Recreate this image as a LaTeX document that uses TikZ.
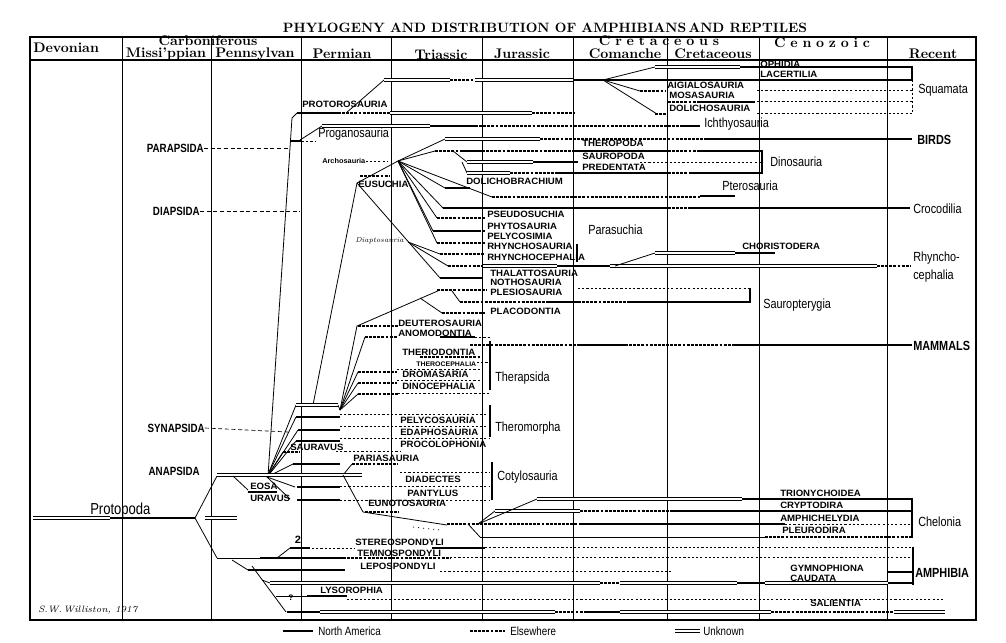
\documentclass[tikz,border=0pt]{standalone}
\usepackage{fontspec}
\newfontfamily\labf[FakeStretch=0.82]{Liberation Sans}
\newfontfamily\capf[FakeStretch=1.05]{Liberation Sans Bold}
\newcommand\myseg[4]{\draw[#1] (#2,#4) -- (#3,#4);}
\newcommand\lsp{\hspace{3.6pt}}
\begin{document}
\begin{tikzpicture}[x=0.0265cm,y=-0.0265cm,
 stNA/.style={line width=2.2pt},
 stEL/.style={line width=2.2pt, dash pattern=on 2.2pt off 0.9pt},
 stUN/.style={draw=black, double=white, line width=0.6pt, double distance=1.1pt},
 stDT/.style={line width=0.5pt, dash pattern=on 1.6pt off 1.6pt},
 stLN/.style={line width=0.6pt},
 stBAR/.style={line width=1.3pt},
 stCOL/.style={line width=0.6pt},
 sl/.style={font=\capf\fontsize{6.9}{7}\selectfont, anchor=west, inner sep=0},
 tl/.style={font=\capf\fontsize{5}{6}\selectfont, anchor=west, inner sep=0},
 bl/.style={font=\labf\fontsize{10}{11}\selectfont, anchor=west, inner sep=0},
 bbl/.style={font=\labf\bfseries\fontsize{10}{11}\selectfont, anchor=west, inner sep=0},
 ml/.style={font=\labf\bfseries\fontsize{9}{10}\selectfont, inner sep=0},
 hd/.style={font=\fontsize{10.5}{11}\selectfont\bfseries, inner sep=0}]
\useasboundingbox (0,0) rectangle (1006,642);
% title
\node[font=\fontsize{10.2}{12}\selectfont\bfseries, inner sep=0] (title) at (545,28) {PHYLOGENY AND DISTRIBUTION OF AMPHIBIANS\,AND REPTILES};
% frame and columns
\draw[line width=0.8pt] (30,37) rectangle (976,620);
\draw[line width=1.5pt] (30,620) -- (976,620);
\draw[line width=0.8pt] (30,60) -- (976,60);
\foreach \x in {122,211,301,391,482,573,667,759,887} \draw[stCOL] (\x,37) -- (\x,620);
% headers
\node[hd,anchor=west] (hDev) at (33,48) {Devonian};
\node[hd] (hCarb) at (208,41) {Carboniferous};
\node[hd] (hMiss) at (166,54) {Missi'ppian};
\node[hd] (hPenn) at (255,54) {Pennsylvan};
\node[hd] (hPerm) at (342,54) {Permian};
\node[hd] (hTri) at (441,55) {Triassic};
\node[hd] (hJur) at (522,54) {Jurassic};
\node[hd] (hCret) at (659,41) {C\lsp r\lsp e\lsp t\lsp a\lsp c\lsp e\lsp o\lsp u\lsp s};
\node[hd] (hCom) at (625,54) {Comanche};
\node[hd] (hCre2) at (713,54) {Cretaceous};
\node[hd] (hCen) at (822,43) {C\lsp e\lsp n\lsp o\lsp z\lsp o\lsp i\lsp c};
\node[hd] (hRec) at (933,54) {Recent};
% ===== Squamata =====
\draw[stLN] (268,476) -- (292,118) -- (297,113);
\myseg{stNA}{297}{338}{113}
\myseg{stEL}{338}{390}{113}
\myseg{stUN}{390}{532}{113}
\myseg{stEL}{532}{575}{113}
\draw[stLN] (346,113) -- (384,80);
\myseg{stUN}{384}{450}{80}
\myseg{stEL}{450}{475}{80}
\myseg{stUN}{475}{573}{80}
\myseg{stNA}{573}{912}{80}
\draw[stLN] (603,80) -- (655,67);
\myseg{stUN}{655}{740}{67}
\myseg{stNA}{740}{912}{67}
\draw[stNA] (912,66) -- (912,81);
\draw[stLN] (603,80) -- (640,91);
\myseg{stEL}{640}{665}{91}
\myseg{stDT}{757}{912}{90}
\draw[stLN] (603,80) -- (657,114);
\myseg{stEL}{668}{700}{102}
\myseg{stNA}{700}{755}{102}
\myseg{stDT}{757}{912}{101}
\myseg{stEL}{655}{668}{114}
\myseg{stDT}{757}{912}{113}
\draw[stDT] (912,80) -- (912,113);
\node[sl] (lProt) at (302,104) {PROTOROSAURIA};
\node[sl] (lOph) at (760,64) {OPHIDIA};
\node[sl] (lLac) at (760,74) {LACERTILIA};
\node[sl] (lAig) at (667,85) {AIGIALOSAURIA};
\node[sl] (lMos) at (669,95) {MOSASAURIA};
\node[sl] (lDol) at (669,108) {DOLICHOSAURIA};
\node[bl] (lSquam) at (918,90) {Squamata};
% ===== Proganosauria / Ichthyosauria =====
\node[ml,anchor=east] (lPara) at (204,148) {PARAPSIDA};
\draw[line width=0.5pt, dash pattern=on 3pt off 2pt] (lPara.east) -- (290,148);
\myseg{stNA}{290}{302}{141}
\myseg{stDT}{302}{316}{141}
\draw[stLN] (300,140) -- (322,126);
\myseg{stUN}{322}{430}{126}
\myseg{stNA}{430}{475}{126}
\myseg{stEL}{475}{680}{126}
\myseg{stNA}{680}{700}{126}
\node[bl] (lProg) at (318,134) {Proganosauria};
\node[bl] (lIch) at (704,124) {Ichthyosauria};
% ===== Archosauria =====
\node[font=\capf\fontsize{5.3}{6}\selectfont, anchor=west, inner sep=0] (lArch) at (322,161) {Archosauria};
\draw[stDT] (lArch.east) -- (388,161);
\coordinate (E) at (357,183);
\coordinate (B) at (398,161);
\draw[stLN] (313,405) -- (E) -- (B);
\myseg{stEL}{360}{389}{176}
\node[sl] (lEus) at (358,184) {EUSUCHIA};
\node[ml,anchor=east] (lDiap) at (200,211) {DIAPSIDA};
\draw[line width=0.5pt, dash pattern=on 3pt off 2pt] (lDiap.east) -- (300,211);
% birds
\draw[stLN] (B) -- (445,139);
\myseg{stUN}{445}{540}{139}
\myseg{stEL}{540}{705}{139}
\myseg{stNA}{705}{912}{139}
\node[bbl] (lBirds) at (917,140) {BIRDS};
% dinosaurs
\draw[stLN] (B) -- (435,151);
\myseg{stEL}{435}{460}{151}
\myseg{stNA}{460}{482}{151}
\myseg{stEL}{482}{575}{151}
\myseg{stNA}{575}{668}{151}
\myseg{stEL}{668}{700}{151}
\myseg{stNA}{700}{762}{151}
\draw[stLN] (453,151) -- (467,162);
\myseg{stUN}{467}{533}{162}
\myseg{stNA}{533}{578}{162}
\myseg{stDT}{640}{762}{162}
\draw[stLN] (462,162) -- (467,173);
\myseg{stUN}{467}{510}{173}
\myseg{stEL}{510}{555}{173}
\myseg{stNA}{555}{668}{173}
\myseg{stEL}{668}{690}{173}
\myseg{stNA}{690}{762}{173}
\draw[stNA] (762,150) -- (762,174);
\node[sl] (lThero) at (582,143) {THEROPODA};
\node[sl] (lSauro) at (582,156) {SAUROPODA};
\node[sl] (lPred) at (582,167) {PREDENTATA};
\node[bl] (lDino) at (770,162) {Dinosauria};
% dolichobrachium
\draw[stLN] (B) -- (445,188);
\myseg{stNA}{445}{470}{188}
\node[sl] (lDolb) at (466,181) {DOLICHOBRACHIUM};
% pterosauria
\draw[stLN] (B) -- (492,197);
\myseg{stEL}{492}{700}{197}
\myseg{stNA}{700}{735}{196}
\node[bl] (lPter) at (722,186) {Pterosauria};
% crocodilia
\draw[stLN] (B) -- (443,208);
\myseg{stNA}{443}{668}{208}
\myseg{stEL}{668}{688}{208}
\myseg{stNA}{688}{910}{208}
\node[bl] (lCroc) at (913,209) {Crocodilia};
% parasuchia
\draw[stLN] (B) -- (437,218);
\myseg{stEL}{437}{485}{218}
\draw[stLN] (B) -- (433,231);
\myseg{stNA}{433}{478}{231}
\myseg{stEL}{478}{486}{231}
\draw[stLN] (B) -- (437,243);
\myseg{stEL}{437}{485}{243}
\draw[stLN] (E) -- (440,278);
\coordinate (D) at (408,242);
\draw[stLN] (D) -- (440,254);
\myseg{stEL}{440}{485}{254}
\draw[stLN] (D) -- (448,266);
\myseg{stEL}{448}{483}{266}
\myseg{stUN}{483}{557}{266}
\myseg{stNA}{557}{610}{266}
\myseg{stUN}{610}{877}{266}
\myseg{stEL}{877}{910}{266}
\draw[stLN] (615,266) -- (655,253);
\myseg{stUN}{655}{735}{253}
\myseg{stNA}{735}{775}{253}
\myseg{stNA}{440}{483}{278}
\node[font=\itshape\fontsize{5.5}{6}\selectfont, inner sep=0, anchor=west] (lDiapt) at (355,241) {Diaptosauria};
\draw[stNA] (577,244) -- (577,262);
\node[sl] (lPseu) at (487,214) {PSEUDOSUCHIA};
\node[sl] (lPhyt) at (487,226) {PHYTOSAURIA};
\node[sl] (lPely) at (487,236) {PELYCOSIMIA};
\node[sl] (lRhs) at (487,246) {RHYNCHOSAURIA};
\node[sl] (lRhc) at (487,257) {RHYNCHOCEPHALIA};
\node[bl] (lParas) at (588,230) {Parasuchia};
\node[sl] (lChor) at (742,246) {CHORISTODERA};
\node[bl] (lRhy1) at (913,258) {Rhyncho-};
\node[bl] (lRhy2) at (913,276) {cephalia};
% sauropterygia
\node[sl] (lThal) at (490,273) {THALATTOSAURIA};
\node[sl] (lNoth) at (490,282) {NOTHOSAURIA};
\node[sl] (lPles) at (490,292) {PLESIOSAURIA};
\node[sl] (lPlac) at (490,311) {PLACODONTIA};
\coordinate (T) at (340,410);
\draw[stLN] (T) -- (357,326) -- (440,290);
\myseg{stEL}{437}{487}{290}
\draw[stLN] (420,298) -- (442,313);
\myseg{stEL}{442}{485}{313}
\draw[stLN] (452,291) -- (460,302);
\myseg{stEL}{460}{548}{302}
\myseg{stNA}{548}{578}{302}
\myseg{stEL}{578}{630}{302}
\myseg{stNA}{630}{750}{302}
\myseg{stDT}{578}{750}{288}
\draw[stBAR] (750,288) -- (750,303);
\node[bl] (lSaur) at (763,305) {Sauropterygia};
% ===== Therapsida =====
\myseg{stEL}{358}{398}{326}
\node[sl] (lDeut) at (398,323) {DEUTEROSAURIA};
\draw[stLN] (T) -- (365,337);
\myseg{stEL}{365}{397}{337}
\myseg{stNA}{440}{475}{337}
\myseg{stDT}{475}{490}{337}
\node[sl] (lAnom) at (398,333) {ANOMODONTIA};
\myseg{stEL}{470}{580}{345}
\myseg{stNA}{580}{625}{345}
\myseg{stEL}{625}{735}{345}
\myseg{stNA}{735}{912}{345}
\node[bbl] (lMamm) at (913,346) {MAMMALS};
\node[sl] (lTherd) at (402,352) {THERIODONTIA};
\myseg{stEL}{420}{480}{357}
\node[tl] (lTherc) at (416,364) {THEROCEPHALIA};
\myseg{stDT}{477}{490}{362}
\draw[stLN] (T) -- (358,372);
\myseg{stEL}{358}{397}{372}
\myseg{stDT}{397}{483}{369}
\draw[stLN] (T) -- (358,383);
\myseg{stEL}{358}{397}{383}
\myseg{stDT}{397}{483}{380}
\draw[stLN] (T) -- (358,394);
\myseg{stEL}{358}{398}{394}
\myseg{stDT}{398}{490}{393}
\node[sl] (lDrom) at (402,374) {DROMASARIA};
\node[sl] (lDino2) at (402,386) {DINOCEPHALIA};
\draw[stBAR] (490,341) -- (490,390);
\node[bl] (lTherap) at (495,378) {Therapsida};
% ===== Theromorpha =====
\coordinate (S) at (267,477);
\node[ml,anchor=east] (lSyn) at (205,428) {SYNAPSIDA};
\draw[line width=0.5pt, dash pattern=on 3pt off 2pt] (lSyn.east) -- (288,432);
\draw[stLN] (S) -- (296,405);
\myseg{stUN}{296}{338}{405}
\draw[stLN] (338,405) -- (T);
\draw[stLN] (S) -- (296,417);
\myseg{stNA}{296}{340}{417}
\myseg{stDT}{340}{490}{414}
\draw[stLN] (S) -- (298,430);
\myseg{stNA}{298}{340}{430}
\myseg{stDT}{340}{490}{426}
\draw[stLN] (S) -- (296,441);
\myseg{stNA}{296}{340}{441}
\myseg{stDT}{340}{490}{438}
\draw[stLN] (S) -- (283,452);
\myseg{stEL}{283}{300}{452}
\myseg{stDT}{336}{400}{451}
\node[sl] (lPelyc) at (400,420) {PELYCOSAURIA};
\node[sl] (lEdap) at (400,432) {EDAPHOSAURIA};
\node[sl] (lProc) at (400,444) {PROCOLOPHONIA};
\node[sl] (lSaurav) at (290,447) {SAURAVUS};
\draw[stBAR] (490,405) -- (490,437);
\node[bl] (lTherom) at (495,428) {Theromorpha};
% ===== Anapsida / Cotylosauria =====
\node[ml,anchor=east] (lAnap) at (200,471) {ANAPSIDA};
\draw[stLN] (S) -- (293,464);
\myseg{stNA}{293}{340}{464}
\draw[stLN] (343,475) -- (352,464);
\myseg{stEL}{352}{398}{464}
\node[sl] (lPari) at (353,458) {PARIASAURIA};
\myseg{stUN}{217}{362}{475}
\myseg{stDT}{400}{490}{472}
\draw[stLN] (233,476) -- (248,490);
\myseg{stNA}{248}{277}{492}
\node[sl] (lEosa) at (250,486) {EOSA};
\node[sl] (lUra) at (250,498) {URAVUS};
\draw[stLN] (S) -- (295,487);
\myseg{stNA}{297}{340}{487}
\myseg{stDT}{340}{490}{486}
\draw[stLN] (S) -- (290,499);
\myseg{stNA}{297}{340}{500}
\myseg{stDT}{340}{490}{500}
\draw[stBAR] (492,462) -- (492,500);
\node[bl] (lCoty) at (497,477) {Cotylosauria};
\node[sl] (lDiad) at (405,479) {DIADECTES};
\node[sl] (lPant) at (407,493) {PANTYLUS};
% eunotosauria / chelonia
\draw[stLN] (343,475) -- (363,512);
\myseg{stEL}{365}{398}{512}
\node[sl] (lEuno) at (368,503) {EUNOTOSAURIA};
\draw[stLN] (363,512) -- (447,525);
\draw[line width=0.6pt, dash pattern=on 0.8pt off 3pt] (413,527) -- (440,530);
\myseg{stEL}{447}{580}{524}
\myseg{stNA}{580}{785}{524}
\myseg{stDT}{785}{912}{524}
\coordinate (C) at (478,524);
\draw[stLN] (C) -- (495,511);
\myseg{stUN}{495}{580}{511}
\myseg{stEL}{580}{672}{511}
\myseg{stNA}{672}{912}{511}
\draw[stLN] (C) -- (537,499);
\myseg{stUN}{537}{742}{499}
\myseg{stNA}{742}{912}{499}
\draw[stLN] (468,524) -- (480,537);
\myseg{stLN}{480}{765}{537}
\myseg{stEL}{765}{912}{537}
\draw[stBAR] (912,498) -- (912,538);
\node[sl] (lTrio) at (780,493) {TRIONYCHOIDEA};
\node[sl] (lCryp) at (780,505) {CRYPTODIRA};
\node[sl] (lAmph) at (780,518) {AMPHICHELYDIA};
\node[sl] (lPleu) at (782,530) {PLEURODIRA};
\node[bl] (lChel) at (918,522) {Chelonia};
% ===== Protopoda and Amphibia =====
\myseg{stUN}{33}{110}{518}
\myseg{stNA}{110}{195}{518}
\myseg{stUN}{205}{237}{518}
\node[font=\labf\fontsize{12}{13}\selectfont, inner sep=0, anchor=west] (lProto) at (90,510) {Protopoda};
\draw[stLN] (195,518) -- (217,476);
\draw[stLN] (195,518) -- (217,558);
\myseg{stLN}{217}{260}{558}
\myseg{stNA}{260}{343}{558}
\myseg{stEL}{343}{450}{558}
\myseg{stDT}{450}{912}{557}
\draw[stLN] (277,558) -- (290,548);
\myseg{stNA}{290}{310}{548}
\myseg{stDT}{312}{355}{548}
\myseg{stNA}{432}{485}{548}
\myseg{stDT}{485}{912}{547}
\node[font=\capf\fontsize{8}{9}\selectfont, inner sep=0] (l2) at (298,540) {2};
\draw[stLN] (232,560) -- (248,570);
\myseg{stNA}{248}{345}{570}
\myseg{stDT}{440}{672}{571}
\draw[stLN] (252,566) -- (286,612);
\draw[stLN] (262,580) -- (270,583);
\myseg{stUN}{270}{600}{583}
\myseg{stEL}{600}{620}{583}
\myseg{stUN}{620}{737}{583}
\myseg{stNA}{737}{765}{583}
\myseg{stUN}{765}{888}{583}
\myseg{stNA}{888}{912}{583}
\myseg{stNA}{888}{912}{572}
\draw[stBAR] (913,547) -- (913,585);
\draw[stLN] (276,596) -- (307,596);
\myseg{stNA}{307}{347}{596}
\myseg{stDT}{347}{945}{599}
\node[font=\capf\fontsize{6}{7}\selectfont, inner sep=0] (lrho) at (291,598) {?};
\myseg{stNA}{287}{320}{612}
\myseg{stUN}{320}{555}{612}
\myseg{stEL}{555}{584}{612}
\myseg{stNA}{584}{620}{612}
\myseg{stUN}{620}{771}{612}
\myseg{stEL}{771}{894}{612}
\myseg{stUN}{894}{945}{612}
\node[sl] (lStereo) at (355,542) {STEREOSPONDYLI};
\node[sl] (lTemno) at (357,553) {TEMNOSPONDYLI};
\node[sl] (lLepo) at (360,566) {LEPOSPONDYLI};
\node[sl] (lLyso) at (320,590) {LYSOROPHIA};
\node[sl] (lGymn) at (790,568) {GYMNOPHIONA};
\node[sl] (lCaud) at (790,578) {CAUDATA};
\node[sl] (lSal) at (810,603) {SALIENTIA};
\node[bbl] (lAmphib) at (915,573) {AMPHIBIA};
% signature
\node[font=\itshape\fontsize{7}{8}\selectfont, inner sep=0, anchor=west] (sig) at (38,610) {S.W.\,Williston, 1917};
% legend
\myseg{stNA}{283}{313}{631}
\node[font=\labf\fontsize{9}{10}\selectfont, inner sep=0, anchor=west] (lgNA) at (318,631) {North America};
\myseg{stEL}{470}{505}{631}
\node[font=\labf\fontsize{9}{10}\selectfont, inner sep=0, anchor=west] (lgEL) at (510,631) {Elsewhere};
\myseg{stUN}{675}{700}{631}
\node[font=\labf\fontsize{9}{10}\selectfont, inner sep=0, anchor=west] (lgUN) at (703,631) {Unknown};
\end{tikzpicture}
\end{document}
